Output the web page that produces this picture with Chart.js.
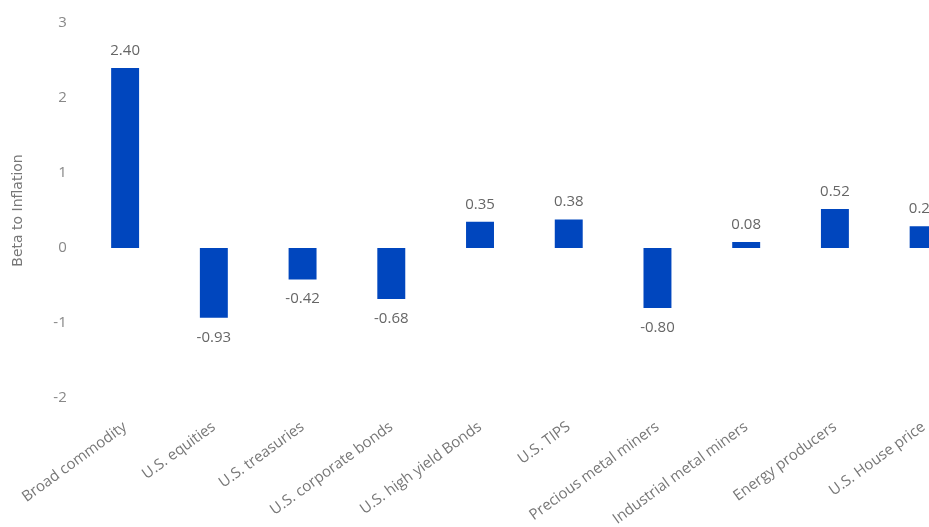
<!DOCTYPE html>
<html>
<head>
<meta charset="utf-8">
<script src="https://cdn.jsdelivr.net/npm/chart.js@4.4.0/dist/chart.umd.min.js"></script>
<style>
  html, body { margin: 0; padding: 0; background: #fff; overflow: hidden; }
  #wrap { width: 929px; height: 527px; overflow: hidden; }
</style>
</head>
<body>
<div id="wrap"><canvas id="grafico" width="975" height="527"></canvas></div>
<script>
const categorias = ['Broad commodity', 'U.S. equities', 'U.S. treasuries', 'U.S. corporate bonds',
    'U.S. high yield Bonds', 'U.S. TIPS', 'Precious metal miners', 'Industrial metal miners',
    'Energy producers', 'U.S. House price'];
const betas = [2.40, -0.93, -0.42, -0.68, 0.35, 0.38, -0.80, 0.08, 0.52, 0.29];
const ticksY = [-2, -1, 0, 1, 2, 3];

// etiquetas de valor encima / debajo de cada barra
const etiquetas = {
    id: 'etiquetas',
    afterDatasetsDraw(chart) {
        let ctx = chart.ctx
        let meta = chart.getDatasetMeta(0)
        ctx.save()
        ctx.font = '15px "Open Sans", sans-serif'
        ctx.fillStyle = '#666'
        ctx.textAlign = 'center'
        meta.data.forEach(function (bar, i) {
            let v = betas[i]
            if (v >= 0) {
                ctx.textBaseline = 'bottom'
                ctx.fillText(v.toFixed(2), bar.x, bar.y - 10)
            } else {
                ctx.textBaseline = 'top'
                ctx.fillText(v.toFixed(2), bar.x, bar.y + 12)
            }
        })
        ctx.restore()
    }
};

let canvas = document.getElementById('grafico').getContext('2d');
var chart = new Chart(canvas, {
    type: 'bar',
    data: {
        labels: categorias,
        datasets: [{
            label: 'Beta to Inflation',
            data: betas,
            backgroundColor: '#0046BE',
            barPercentage: 0.315,
            categoryPercentage: 1
        }]
    },
    options: {
        responsive: false,
        animation: false,
        devicePixelRatio: 1,
        layout: { padding: { top: 20, right: 7, left: 0, bottom: 0 } },
        plugins: {
            legend: { display: false },
            tooltip: { enabled: false }
        },
        scales: {
            x: {
                grid: { display: false, drawTicks: false },
                border: { display: false },
                ticks: {
                    autoSkip: false,
                    minRotation: 36,
                    maxRotation: 36,
                    padding: 20,
                    color: '#777',
                    font: { family: '"Open Sans", sans-serif', size: 15 }
                },
                afterFit: function (scale) { scale.height = 129 }
            },
            y: {
                min: -2,
                max: 3,
                afterBuildTicks: function (scale) {
                    scale.ticks = ticksY.map(function (v) { return { value: v } })
                },
                grid: { display: false, drawTicks: false },
                border: { display: false },
                ticks: {
                    padding: 14,
                    color: '#888',
                    font: { family: '"Open Sans", sans-serif', size: 15 }
                },
                title: {
                    display: true,
                    text: 'Beta to Inflation',
                    color: '#777',
                    padding: { top: 8, bottom: 0 },
                    font: { family: '"DejaVu Sans", sans-serif', size: 14 }
                },
                afterFit: function (scale) { scale.width = 78.5 }
            }
        }
    },
    plugins: [etiquetas]
});
</script>
</body>
</html>
